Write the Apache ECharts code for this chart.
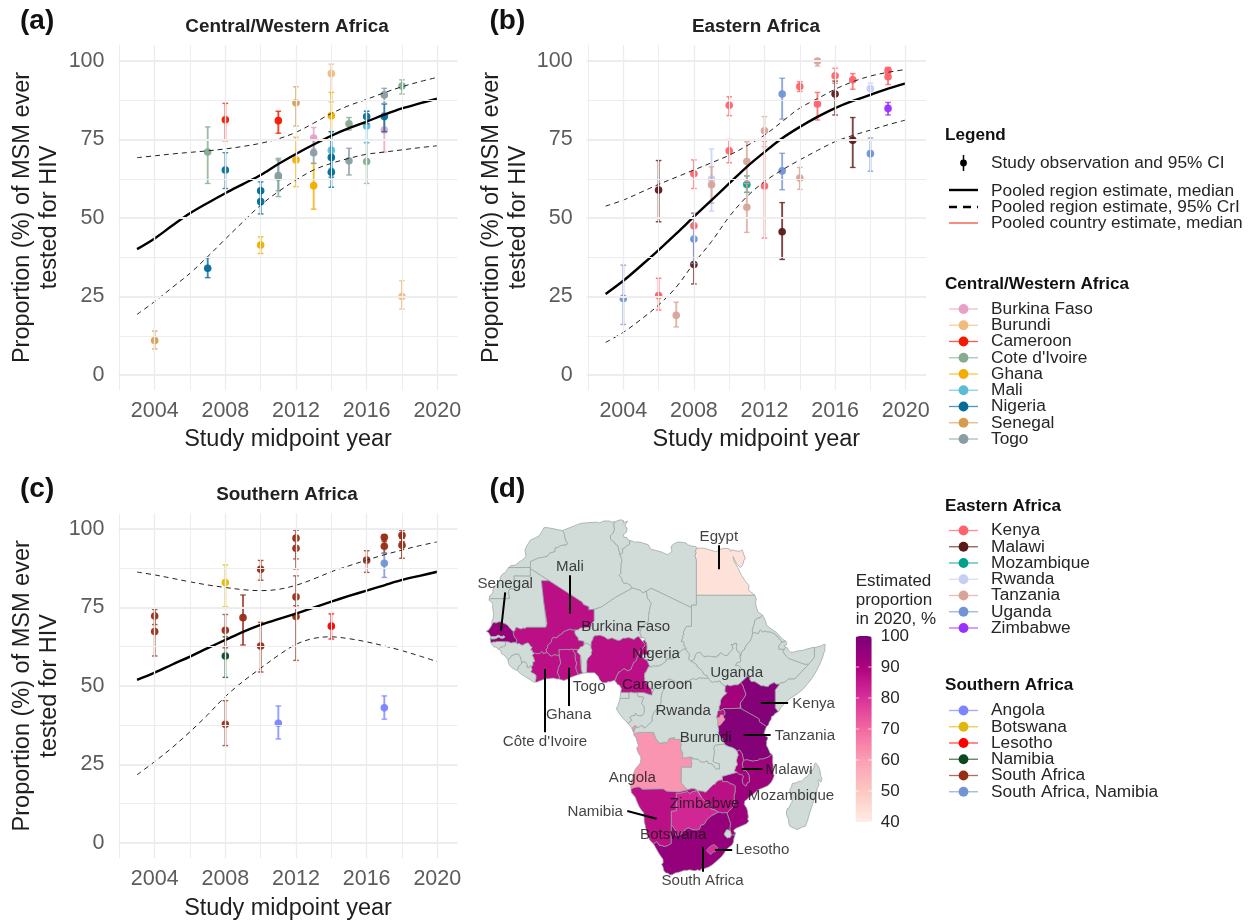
<!DOCTYPE html>
<html><head><meta charset="utf-8">
<style>html,body{margin:0;padding:0;background:#fff}#c{width:1251px;height:921px}</style>
<script src="https://cdn.jsdelivr.net/npm/echarts@6/dist/echarts.min.js"></script></head>
<body><div id="c"></div>
<script>
// ---------- observations: [year, estimate, lower, upper]
const burkinaFaso=[[2013,75.5,72,78.8],[2017,78,71,83.5]];
const burundi=[[2014,96,87,99],[2018,25,21,30]];
const cameroon=[[2008,81.3,74.6,86.5],[2011,81,77,84]];
const coteDIvoire=[[2007,71,61,79],[2011,63,56.8,69],[2015,80,78,82],[2016,68,61,74],[2018,92,89.5,94]];
const ghana=[[2010,41.4,38.7,44],[2012,68.5,60,75.7],[2013,60.3,52.8,67.4],[2014,82.6,74.8,90]];
const mali=[[2014,71.6,65.8,77.5],[2016,79.3,74,84]];
const nigeria=[[2007,34,31,37.4],[2008,65.3,59.4,70.8],[2010,58.7,55.7,61.5],[2010,55.2,51.3,58.4],[2014,69.3,63,77.5],[2014,64.6,59.8,69.5],[2016,82.3,80,84],[2017,82.3,77.5,86.3]];
const senegal=[[2004,11,8.3,14],[2012,86.7,79.3,91.8]];
const togo=[[2011,63.5,58.7,68.5],[2013,70.8,67.4,75],[2015,68.2,63.7,72.2],[2017,89.2,86.5,91.3]];
const kenya=[[2006,25.3,20.7,30.8],[2008,64.1,59.4,68.5],[2008,47.5,43,51.5],[2010,85.9,82.6,88.6],[2010,71.4,67.6,75],[2012,60.2,43.6,74.5],[2014,91.9,90.3,93.4],[2015,86.3,81.2,90],[2016,95.3,92.9,97.7],[2017,94,91,96],[2019,97,96,97.9],[2019,95,92.5,97]];
const malawi=[[2006,58.9,48.8,68.3],[2008,35.2,29,42.8],[2013,45.6,36.8,54.9],[2016,89.5,82.8,93.6],[2017,74.8,66.1,82]];
const mozambique=[[2011,60.7,58.2,63.4]];
const rwanda=[[2009,62.4,52.2,72],[2018,91.2,89.2,93]];
const tanzania=[[2007,19,15.3,23.2],[2009,60.6,54.7,66.3],[2011,68,61.6,74.3],[2011,53.4,45.4,61],[2012,77.8,72.7,82.3],[2014,62.7,59.1,66.1],[2015,100,98.4,100]];
const uganda=[[2004,24.4,16.1,35],[2008,43.3,35.5,51.5],[2013,89.5,81.5,94.5],[2013,65,59,70.6],[2018,70.5,64.9,75.5]];
const zimbabwe=[[2019,84.9,82.8,86.8]];
const angola=[[2011,38.1,33.1,43.6],[2017,43,39.4,46.8]];
const botswana=[[2008,82.9,75.2,88.5]];
const lesotho=[[2014,69,64.9,72.9]];
const namibia=[[2008,59.5,52.7,65.6]];
const southAfrica=[[2004,72.2,69.5,74.7],[2004,67.3,59.5,74.3],[2008,67.7,62.1,72.7],[2008,37.8,31,45.3],[2009,71.7,63,78.9],[2010,87.1,83.6,89.9],[2010,62.7,54.4,70.2],[2012,97,90.4,99.5],[2012,93.8,87.2,97.5],[2012,78.3,72,85],[2012,72.1,58.1,75.5],[2016,90,86.1,93],[2017,97.3,95.9,98],[2017,94.4,92.2,96.4],[2018,97.9,95.9,99.5],[2018,94.7,90.6,96.9]];
const southAfricaNamibia=[[2017,89,84.5,92.2]];
// ---------- pooled curves, one reading per year
const curveYears=[2003,2004,2005,2006,2007,2008,2009,2010,2011,2012,2013,2014,2015,2016,2017,2018,2019,2020];
const medianA=[40.1,43.5,47.6,51.5,54.8,57.9,60.8,63.7,67.2,70.4,73.4,76.2,78.6,80.7,82.9,84.9,86.5,88];
const upperA=[69.2,69.8,70.4,70.9,71.4,72,72.8,73.8,75.2,77.3,80.2,83.3,85.8,87.8,89.9,91.8,93.4,94.8];
const lowerA=[19.3,23.4,27.9,32.4,37.7,43.3,48.8,54.1,58.4,62.1,65.3,67.4,69,70.3,71,71.7,72.4,73];
const medianB=[25.8,30,34.8,39.8,45,50.4,55.7,61,66.3,71,75.4,79,82.2,85,87.3,89.2,91.2,92.9];
const upperB=[53.8,55.7,58.2,60.7,63,65.3,67.6,70,73,76.4,80.7,85,88,91,93.4,95.2,96.4,97.3];
const lowerB=[10.4,13.6,17.7,22.3,28,35.6,42.5,50.4,56.8,61.6,65.3,68.5,71.5,74.3,76.3,78,79.7,81.2];
const medianC=[51.9,54.2,56.8,59.3,62,64.6,67.2,69.4,71.2,73,74.9,76.8,78.6,80.3,82,83.7,85,86.3];
const upperC=[86.2,85.3,84.2,83.1,82.1,81.3,80.6,80.3,80.7,82,84,86.3,88.2,90,91.7,93.2,94.6,95.8];
const lowerC=[21.7,25.9,30.4,35.4,40.8,46.6,51.4,55.6,59.7,63.2,65.1,65.6,65,64,62.7,61.2,59.5,57.7];
// ---------- ticks
const xMajor=[2004,2008,2012,2016,2020];
const xMinor=[2002,2006,2010,2014,2018];
const yMajor=[0,25,50,75,100];
const yMinor=[12.5,37.5,62.5,87.5];
// ---------- legend groups: [name, colour, observations]
const centralWestern=[['Burkina Faso','#E8A0C8',burkinaFaso],['Burundi','#F1BB7B',burundi],['Cameroon','#F21A00',cameroon],["Cote d'Ivoire",'#85AC8E',coteDIvoire],['Ghana','#F2AD00',ghana],['Mali','#5BBCD6',mali],['Nigeria','#046C9A',nigeria],['Senegal','#D69C4E',senegal],['Togo','#899DA4',togo]];
const eastern=[['Kenya','#FF6268',kenya],['Malawi','#5B1A18',malawi],['Mozambique','#00A08A',mozambique],['Rwanda','#C6CDF7',rwanda],['Tanzania','#D8A499',tanzania],['Uganda','#7294D4',uganda],['Zimbabwe','#9A30FF',zimbabwe]];
const southern=[['Angola','#7B85FF',angola],['Botswana','#E1B80A',botswana],['Lesotho','#FF0000',lesotho],['Namibia','#0B4A1E',namibia],['South Africa','#972D15',southAfrica],['South Africa, Namibia','#7294D4',southAfricaNamibia]];
// ---------- map
const mapValues=[['Egypt',43],['Mali',87],['Senegal',95],['Burkina Faso',87],['Ghana',87],["Côte d'Ivoire",87],['Togo',86],['Nigeria',87],['Cameroon',87],['Uganda',92],['Kenya',98],['Tanzania',98],['Rwanda',86],['Burundi',62],['Malawi',91],['Mozambique',93],['Zimbabwe',87],['Angola',62],['Namibia',87],['Botswana',82],['South Africa',95],['Lesotho',80]];
const colorbarTicks=[40,50,60,70,80,90,100];
const colorbarColors=['#FFEDE5','#FCC7C0','#FA9FB5','#F468A1','#D8309A','#AE017E','#7A0177'];
const mapLabels=[['Egypt',29.56,33.8],['Mali',-0.66,27.8],['Senegal',-13.8,24.4],['Burkina Faso',10.63,15.6],['Nigeria',16.8,10.2],['Cameroon',17.04,3.9],['Uganda',33.15,6.3],['Rwanda',22.3,-1.46],['Burundi',26.9,-6.9],['Togo',3.25,3.3],['Ghana',-0.93,-2.3],["Côte d'Ivoire",-5.74,-7.76],['Kenya',48.77,0.04],['Tanzania',47,-6.46],['Malawi',43.8,-13.4],['Mozambique',44.2,-18.8],['Angola',12,-15.1],['Zimbabwe',26.66,-20.3],['Namibia',4.47,-22],['Botswana',20.3,-26.7],['Lesotho',38.4,-29.8],['South Africa',26.25,-36.1]];
const mapLeaders=[[[29.56,32.2],[29.56,27.3]],[[-0.66,26.1],[-0.66,18.3]],[[-13.8,22.6],[-14.66,14.8]],[[-1,7.3],[-1,-0.5]],[[-5.74,7],[-5.74,-5.85]],[[38.08,0.25],[43.6,0.25]],[[34.6,-6.3],[40.05,-6.3]],[[34.2,-13.25],[38.4,-13.25]],[[10.96,-21.85],[16.9,-23.4]],[[28.75,-29.8],[32.26,-29.8]],[[26.25,-29.1],[26.25,-34.2]]];
const mapShapes=[
['Morocco',[[-5.19,35.76],[-2.17,35.17],[-1.79,34.53],[-1.73,33.92],[-1.38,32.86],[-1.12,32.65],[-1.31,32.26],[-2.62,32.09],[-3.07,31.72],[-3.65,31.64],[-3.69,30.9],[-4.86,30.5],[-5.24,29.95],[-6.06,29.73],[-7.06,29.58],[-8.67,28.84],[-8.67,27.66],[-13.13,27.64],[-12.62,28.04],[-11.69,28.15],[-10.9,28.83],[-10.4,29.1],[-9.56,29.93],[-9.81,31.18],[-9.43,32.04],[-8.66,33.24],[-7.65,33.7],[-6.91,34.11],[-6.24,35.15],[-5.93,35.76]]],
['Western Sahara',[[-13.13,27.64],[-8.67,27.66],[-8.68,27.4],[-8.69,25.88],[-11.97,25.93],[-11.94,23.37],[-12.87,23.28],[-13.12,22.77],[-12.93,21.33],[-16.85,21.33],[-17.06,21],[-17.02,21.42],[-16.97,21.89],[-16.59,22.16],[-16.26,22.68],[-16.33,23.02],[-15.98,23.72],[-15.43,24.36],[-15.09,24.52],[-14.82,25.1],[-14.8,25.64],[-14.44,26.25],[-13.77,26.62]]],
['Algeria',[[12,23.47],[8.57,21.57],[5.68,19.6],[4.27,19.16],[3.16,19.06],[3.15,19.69],[2.68,19.86],[2.06,20.14],[1.82,20.61],[-1.55,22.79],[-4.92,24.97],[-8.68,27.4],[-8.67,27.66],[-8.67,28.84],[-7.06,29.58],[-6.06,29.73],[-5.24,29.95],[-4.86,30.5],[-3.69,30.9],[-3.65,31.64],[-3.07,31.72],[-2.62,32.09],[-1.31,32.26],[-1.12,32.65],[-1.38,32.86],[-1.73,33.92],[-1.79,34.53],[-2.17,35.17],[1.47,36.61],[3.16,36.78],[4.82,36.87],[5.32,36.72],[6.26,37.11],[7.33,37.12],[7.74,36.89],[8.42,36.95],[8.22,36.43],[8.38,35.48],[8.14,34.66],[7.52,34.1],[7.61,33.34],[8.43,32.75],[8.44,32.51],[9.06,32.1],[9.48,30.31],[9.81,29.42],[9.86,28.96],[9.68,28.14],[9.76,27.69],[9.63,27.14],[9.72,26.51],[9.32,26.09],[9.91,25.37],[9.95,24.94],[10.3,24.38],[10.77,24.56],[11.56,24.1]]],
['Tunisia',[[9.48,30.31],[9.06,32.1],[8.44,32.51],[8.43,32.75],[7.61,33.34],[7.52,34.1],[8.14,34.66],[8.38,35.48],[8.22,36.43],[8.42,36.95],[9.51,37.35],[10.21,37.23],[10.18,36.72],[11.03,37.09],[11.1,36.9],[10.6,36.41],[10.59,35.95],[10.94,35.7],[10.81,34.83],[10.15,34.33],[10.34,33.79],[10.86,33.77],[11.11,33.29],[11.49,33.14],[11.43,32.37],[10.94,32.08],[10.64,31.76],[9.95,31.38],[10.06,30.96],[9.97,30.54]]],
['Libya',[[14.85,22.86],[14.14,22.49],[13.58,23.04],[12,23.47],[11.56,24.1],[10.77,24.56],[10.3,24.38],[9.95,24.94],[9.91,25.37],[9.32,26.09],[9.72,26.51],[9.63,27.14],[9.76,27.69],[9.68,28.14],[9.86,28.96],[9.81,29.42],[9.48,30.31],[9.97,30.54],[10.06,30.96],[9.95,31.38],[10.64,31.76],[10.94,32.08],[11.43,32.37],[11.49,33.14],[12.66,32.79],[13.08,32.88],[13.92,32.71],[15.25,32.27],[15.71,31.38],[16.61,31.18],[18.02,30.76],[19.09,30.27],[19.57,30.53],[20.05,30.99],[19.82,31.75],[20.13,32.24],[20.85,32.71],[21.54,32.84],[22.9,32.64],[23.24,32.19],[23.61,32.19],[23.93,32.02],[24.92,31.9],[25.16,31.57],[24.8,31.09],[24.96,30.66],[24.7,30.04],[25,29.24],[25,22],[25,20],[24,20],[24,19.5],[15.86,23.41]]],
['Egypt',[[36.87,22],[32.9,22],[29.02,22],[25,22],[25,29.24],[24.7,30.04],[24.96,30.66],[24.8,31.09],[25.16,31.57],[26.5,31.59],[28.91,30.87],[29.68,31.19],[30.09,31.47],[30.98,31.56],[31.69,31.43],[31.96,30.93],[32.19,31.26],[32.99,31.02],[33.77,30.97],[34.27,31.22],[34.92,29.5],[34.64,29.1],[34.43,28.34],[34.15,27.82],[33.92,27.65],[33.14,28.42],[32.42,29.85],[32.32,29.76],[32.73,28.71],[33.35,27.7],[34.1,26.14],[34.47,25.6],[34.8,25.03],[35.69,23.93],[35.49,23.81],[35.53,23.1]]],
['Mauritania',[[-12.17,14.62],[-12.83,15.3],[-13.44,16.04],[-14.1,16.3],[-14.58,16.6],[-15.14,16.59],[-15.62,16.37],[-16.12,16.46],[-16.46,16.14],[-16.55,16.67],[-16.27,17.17],[-16.15,18.11],[-16.26,19.1],[-16.38,19.59],[-16.28,20.09],[-16.54,20.57],[-17.06,21],[-16.85,21.33],[-12.93,21.33],[-13.12,22.77],[-12.87,23.28],[-11.94,23.37],[-11.97,25.93],[-8.69,25.88],[-8.68,27.4],[-4.92,24.97],[-6.45,24.96],[-5.97,20.64],[-5.49,16.33],[-5.32,16.2],[-5.54,15.5],[-9.55,15.49],[-9.7,15.26],[-10.09,15.33],[-10.65,15.13],[-11.35,15.41],[-11.67,15.39],[-11.83,14.8]]],
['Mali',[[-12.17,14.62],[-11.83,14.8],[-11.67,15.39],[-11.35,15.41],[-10.65,15.13],[-10.09,15.33],[-9.7,15.26],[-9.55,15.49],[-5.54,15.5],[-5.32,16.2],[-5.49,16.33],[-5.97,20.64],[-6.45,24.96],[-4.92,24.97],[-1.55,22.79],[1.82,20.61],[2.06,20.14],[2.68,19.86],[3.15,19.69],[3.16,19.06],[4.27,19.16],[4.27,16.85],[3.72,16.18],[3.64,15.57],[2.75,15.41],[1.39,15.32],[1.02,14.97],[0.37,14.93],[-0.27,14.92],[-0.52,15.12],[-1.07,14.97],[-2,14.56],[-2.19,14.25],[-2.97,13.8],[-3.1,13.54],[-3.52,13.34],[-4.01,13.47],[-4.28,13.23],[-4.43,12.54],[-5.22,11.71],[-5.2,11.38],[-5.47,10.95],[-5.4,10.37],[-5.82,10.22],[-6.05,10.1],[-6.21,10.52],[-6.49,10.41],[-6.67,10.43],[-6.85,10.14],[-7.62,10.15],[-7.9,10.3],[-8.03,10.21],[-8.34,10.49],[-8.28,10.79],[-8.41,10.91],[-8.62,10.81],[-8.58,11.14],[-8.38,11.39],[-8.79,11.81],[-8.91,12.09],[-9.13,12.31],[-9.33,12.33],[-9.57,12.19],[-9.89,12.06],[-10.17,11.84],[-10.59,11.92],[-10.87,12.18],[-11.04,12.21],[-11.3,12.08],[-11.46,12.08],[-11.51,12.44],[-11.47,12.75],[-11.55,13.14],[-11.93,13.42],[-12.12,13.99]]],
['Niger',[[2.15,11.94],[2.18,12.63],[1.02,12.85],[0.99,13.34],[0.43,13.99],[0.3,14.44],[0.37,14.93],[1.02,14.97],[1.39,15.32],[2.75,15.41],[3.64,15.57],[3.72,16.18],[4.27,16.85],[4.27,19.16],[5.68,19.6],[8.57,21.57],[12,23.47],[13.58,23.04],[14.14,22.49],[14.85,22.86],[15.1,21.31],[15.47,21.05],[15.49,20.73],[15.9,20.39],[15.69,19.96],[15.3,17.93],[15.25,16.63],[13.97,15.68],[13.54,14.37],[13.95,13.35],[13.32,13.56],[13.08,13.6],[12.3,13.04],[11.53,13.33],[10.99,13.39],[10.7,13.25],[10.11,13.28],[9.52,12.85],[9.01,12.83],[7.8,13.34],[7.33,13.1],[6.82,13.12],[6.45,13.49],[5.44,13.87],[4.37,13.75],[4.11,13.53],[3.97,12.96],[3.68,12.55],[3.61,11.66],[2.85,12.24],[2.49,12.23]]],
['Chad',[[14.5,12.86],[14.6,13.33],[13.95,13.35],[13.54,14.37],[13.97,15.68],[15.25,16.63],[15.3,17.93],[15.69,19.96],[15.9,20.39],[15.49,20.73],[15.47,21.05],[15.1,21.31],[14.85,22.86],[15.86,23.41],[24,19.5],[24,15.7],[23.02,15.68],[22.57,14.94],[22.3,14.33],[22.51,14.09],[22.18,13.79],[22.3,13.37],[22.04,12.96],[21.94,12.59],[22.29,12.65],[22.5,12.26],[22.51,11.68],[22.88,11.38],[22.86,11.14],[22.23,10.97],[21.72,10.57],[21,9.48],[20.06,9.01],[19.09,9.07],[18.81,8.98],[18.91,8.63],[18.39,8.28],[17.96,7.89],[16.71,7.51],[16.46,7.73],[16.29,7.75],[16.11,7.5],[15.28,7.42],[15.44,7.69],[15.12,8.38],[14.98,8.8],[14.54,8.97],[13.95,9.55],[14.17,10.02],[14.63,9.92],[14.91,9.99],[15.47,9.98],[14.92,10.89],[14.96,11.56],[14.89,12.22]]],
['Sudan',[[24,15.7],[24,19.5],[24,20],[25,20],[25,22],[29.02,22],[32.9,22],[36.87,22],[37.19,21.02],[36.97,20.84],[37.11,19.81],[37.48,18.61],[37.86,18.37],[38.41,18],[37.9,17.43],[37.17,17.26],[36.85,16.96],[36.75,16.29],[36.32,14.82],[36.43,14.42],[36.27,13.56],[35.86,12.58],[35.26,12.08],[34.83,11.32],[34.73,10.91],[34.26,10.63],[33.96,9.58],[33.82,9.48],[33.84,9.98],[33.72,10.33],[33.21,10.72],[33.09,11.44],[33.21,12.18],[32.74,12.25],[32.67,12.02],[32.07,11.97],[32.31,11.68],[32.4,11.08],[31.85,10.53],[31.35,9.81],[30.84,9.71],[30,10.29],[29.62,10.08],[29.52,9.79],[29,9.6],[28.97,9.4],[27.97,9.4],[27.83,9.6],[27.11,9.64],[26.75,9.47],[26.48,9.55],[25.96,10.14],[25.79,10.41],[25.07,10.27],[24.79,9.81],[24.54,8.92],[24.19,8.73],[23.89,8.62],[23.81,8.67],[23.46,8.95],[23.39,9.27],[23.56,9.68],[23.55,10.09],[22.98,10.71],[22.86,11.14],[22.88,11.38],[22.51,11.68],[22.5,12.26],[22.29,12.65],[21.94,12.59],[22.04,12.96],[22.3,13.37],[22.18,13.79],[22.51,14.09],[22.3,14.33],[22.57,14.94],[23.02,15.68]]],
['South Sudan',[[30.83,3.51],[29.95,4.17],[29.72,4.6],[29.16,4.39],[28.7,4.46],[28.43,4.29],[27.98,4.41],[27.37,5.23],[27.21,5.55],[26.47,5.95],[26.21,6.55],[25.8,6.98],[25.12,7.5],[25.11,7.83],[24.57,8.23],[23.89,8.62],[24.19,8.73],[24.54,8.92],[24.79,9.81],[25.07,10.27],[25.79,10.41],[25.96,10.14],[26.48,9.55],[26.75,9.47],[27.11,9.64],[27.83,9.6],[27.97,9.4],[28.97,9.4],[29,9.6],[29.52,9.79],[29.62,10.08],[30,10.29],[30.84,9.71],[31.35,9.81],[31.85,10.53],[32.4,11.08],[32.31,11.68],[32.07,11.97],[32.67,12.02],[32.74,12.25],[33.21,12.18],[33.09,11.44],[33.21,10.72],[33.72,10.33],[33.84,9.98],[33.82,9.48],[33.96,9.58],[33.98,8.68],[33.83,8.38],[33.29,8.35],[32.95,7.78],[33.57,7.71],[34.07,7.23],[34.25,6.83],[34.71,6.59],[35.3,5.51],[34.62,4.85],[34,4.25],[33.39,3.79],[32.69,3.79],[31.88,3.56],[31.25,3.78]]],
['Eritrea',[[36.43,14.42],[36.32,14.82],[36.75,16.29],[36.85,16.96],[37.17,17.26],[37.9,17.43],[38.41,18],[38.99,16.84],[39.27,15.92],[39.81,15.44],[41.18,14.49],[42.59,13],[43.08,12.7],[42.78,12.46],[42.35,12.54],[42,12.87],[41.6,13.45],[41.16,13.77],[40.9,14.12],[40.03,14.52],[39.34,14.53],[39.1,14.74],[38.51,14.51],[37.91,14.96],[37.59,14.21]]],
['Ethiopia',[[47.79,8],[44.96,5],[43.66,4.96],[42.77,4.25],[42.13,4.23],[41.86,3.92],[41.17,3.92],[40.77,4.26],[39.85,3.84],[39.56,3.42],[38.89,3.5],[38.67,3.62],[38.44,3.59],[38.12,3.6],[36.86,4.45],[36.16,4.45],[35.82,4.78],[35.82,5.34],[35.3,5.51],[34.71,6.59],[34.25,6.83],[34.07,7.23],[33.57,7.71],[32.95,7.78],[33.29,8.35],[33.83,8.38],[33.98,8.68],[33.96,9.58],[34.26,10.63],[34.73,10.91],[34.83,11.32],[35.26,12.08],[35.86,12.58],[36.27,13.56],[36.43,14.42],[37.59,14.21],[37.91,14.96],[38.51,14.51],[39.1,14.74],[39.34,14.53],[40.03,14.52],[40.9,14.12],[41.16,13.77],[41.6,13.45],[42,12.87],[42.35,12.54],[41.66,11.63],[41.74,11.36],[41.76,11.05],[42.31,11.03],[42.55,11.11],[42.78,10.93],[42.56,10.57],[42.93,10.02],[43.3,9.54],[43.68,9.18],[46.95,8]]],
['Djibouti',[[43.08,12.7],[43.32,12.39],[43.29,11.97],[42.72,11.74],[43.15,11.46],[42.78,10.93],[42.55,11.11],[42.31,11.03],[41.76,11.05],[41.74,11.36],[41.66,11.63],[42.35,12.54],[42.78,12.46]]],
['Somaliland',[[48.95,11.41],[48.95,9.45],[48.49,8.84],[47.79,8],[46.95,8],[43.68,9.18],[43.3,9.54],[42.93,10.02],[42.56,10.57],[42.78,10.93],[43.15,11.46],[43.47,11.28],[43.67,10.86],[44.12,10.45],[44.61,10.44],[45.56,10.7],[46.65,10.82],[47.53,11.13],[48.02,11.19],[48.38,11.38]]],
['Somalia',[[48.95,11.41],[49.27,11.43],[49.73,11.58],[50.26,11.68],[50.73,12.02],[51.11,12.02],[51.13,11.75],[51.04,11.17],[51.05,10.64],[50.83,10.28],[50.55,9.2],[50.07,8.08],[49.45,6.8],[48.59,5.34],[47.74,4.22],[46.56,2.86],[45.56,2.05],[44.07,1.05],[43.14,0.29],[42.04,-0.92],[41.81,-1.45],[41.58,-1.68],[40.99,-0.86],[40.98,2.78],[41.86,3.92],[42.13,4.23],[42.77,4.25],[43.66,4.96],[44.96,5],[47.79,8],[48.49,8.84],[48.95,9.45]]],
['Kenya',[[40.99,-0.86],[41.58,-1.68],[40.88,-2.08],[40.64,-2.5],[40.26,-2.57],[40.12,-3.28],[39.8,-3.68],[39.6,-4.35],[39.2,-4.68],[37.77,-3.68],[37.7,-3.1],[34.07,-1.06],[33.9,-0.95],[33.89,0.11],[34.18,0.52],[34.67,1.18],[35.04,1.91],[34.6,3.05],[34.48,3.56],[34,4.25],[34.62,4.85],[35.3,5.51],[35.82,5.34],[35.82,4.78],[36.16,4.45],[36.86,4.45],[38.12,3.6],[38.44,3.59],[38.67,3.62],[38.89,3.5],[39.56,3.42],[39.85,3.84],[40.77,4.26],[41.17,3.92],[41.86,3.92],[40.98,2.78]]],
['Uganda',[[31.87,-1.03],[30.77,-1.01],[30.42,-1.13],[29.82,-1.44],[29.58,-1.34],[29.59,-0.59],[29.82,-0.21],[29.88,0.6],[30.09,1.06],[30.47,1.58],[30.85,1.85],[31.17,2.2],[30.77,2.34],[30.83,3.51],[31.25,3.78],[31.88,3.56],[32.69,3.79],[33.39,3.79],[34,4.25],[34.48,3.56],[34.6,3.05],[35.04,1.91],[34.67,1.18],[34.18,0.52],[33.89,0.11],[33.9,-0.95]]],
['Rwanda',[[30.42,-1.13],[30.82,-1.7],[30.76,-2.29],[30.47,-2.41],[29.94,-2.35],[29.63,-2.92],[29.02,-2.84],[29.12,-2.29],[29.25,-2.22],[29.29,-1.62],[29.58,-1.34],[29.82,-1.44]]],
['Burundi',[[30.47,-2.41],[30.53,-2.81],[30.74,-3.03],[30.75,-3.36],[30.51,-3.57],[30.12,-4.09],[29.75,-4.45],[29.34,-4.5],[29.28,-3.29],[29.02,-2.84],[29.63,-2.92],[29.94,-2.35]]],
['Tanzania',[[33.9,-0.95],[34.07,-1.06],[37.7,-3.1],[37.77,-3.68],[39.2,-4.68],[38.74,-5.91],[38.8,-6.48],[39.44,-6.84],[39.47,-7.1],[39.19,-7.7],[39.25,-8.01],[39.19,-8.49],[39.54,-9.11],[39.95,-10.1],[40.32,-10.32],[39.52,-10.9],[38.43,-11.29],[37.83,-11.27],[37.47,-11.57],[36.78,-11.59],[36.51,-11.72],[35.31,-11.44],[34.56,-11.52],[34.28,-10.16],[33.94,-9.69],[33.74,-9.42],[33.23,-9.68],[32.76,-9.23],[32.19,-8.93],[31.56,-8.76],[31.16,-8.59],[30.74,-8.34],[30.2,-7.08],[29.62,-6.52],[29.42,-5.94],[29.52,-5.42],[29.34,-4.5],[29.75,-4.45],[30.12,-4.09],[30.51,-3.57],[30.75,-3.36],[30.74,-3.03],[30.53,-2.81],[30.47,-2.41],[30.76,-2.29],[30.82,-1.7],[30.42,-1.13],[30.77,-1.01],[31.87,-1.03]]],
['Mozambique',[[34.56,-11.52],[35.31,-11.44],[36.51,-11.72],[36.78,-11.59],[37.47,-11.57],[37.83,-11.27],[38.43,-11.29],[39.52,-10.9],[40.32,-10.32],[40.48,-10.77],[40.44,-11.76],[40.56,-12.64],[40.6,-14.2],[40.78,-14.69],[40.48,-15.41],[40.09,-16.1],[39.45,-16.72],[38.54,-17.1],[37.41,-17.59],[36.28,-18.66],[35.9,-18.84],[35.2,-19.55],[34.79,-19.78],[34.7,-20.5],[35.18,-21.25],[35.37,-21.84],[35.39,-22.14],[35.56,-22.09],[35.53,-23.07],[35.37,-23.54],[35.61,-23.71],[35.46,-24.12],[35.04,-24.48],[34.22,-24.82],[33.01,-25.36],[32.57,-25.73],[32.66,-26.15],[32.92,-26.22],[32.83,-26.74],[32.07,-26.73],[31.99,-26.29],[31.84,-25.84],[31.75,-25.48],[31.93,-24.37],[31.67,-23.66],[31.19,-22.25],[32.24,-21.12],[32.51,-20.4],[32.66,-20.3],[32.77,-19.72],[32.61,-19.42],[32.65,-18.67],[32.85,-17.98],[32.85,-16.71],[32.33,-16.39],[31.85,-16.32],[31.64,-16.07],[31.17,-15.86],[30.34,-15.88],[30.27,-15.51],[30.18,-14.8],[33.21,-13.97],[33.79,-14.45],[34.06,-14.36],[34.46,-14.61],[34.52,-15.01],[34.31,-15.48],[34.38,-16.18],[35.03,-16.8],[35.34,-16.11],[35.77,-15.9],[35.69,-14.61],[35.27,-13.89],[34.91,-13.57],[34.56,-13.58],[34.28,-12.28]]],
['Malawi',[[34.56,-11.52],[34.28,-12.28],[34.56,-13.58],[34.91,-13.57],[35.27,-13.89],[35.69,-14.61],[35.77,-15.9],[35.34,-16.11],[35.03,-16.8],[34.38,-16.18],[34.31,-15.48],[34.52,-15.01],[34.46,-14.61],[34.06,-14.36],[33.79,-14.45],[33.21,-13.97],[32.69,-13.71],[33,-12.78],[33.31,-12.44],[33.11,-11.61],[33.31,-10.8],[33.49,-10.53],[33.23,-9.68],[33.74,-9.42],[33.94,-9.69],[34.28,-10.16]]],
['Zambia',[[30.74,-8.34],[31.16,-8.59],[31.56,-8.76],[32.19,-8.93],[32.76,-9.23],[33.23,-9.68],[33.49,-10.53],[33.31,-10.8],[33.11,-11.61],[33.31,-12.44],[33,-12.78],[32.69,-13.71],[33.21,-13.97],[30.18,-14.8],[30.27,-15.51],[29.52,-15.64],[28.95,-16.04],[28.83,-16.39],[28.47,-16.47],[27.6,-17.29],[27.04,-17.94],[26.71,-18.04],[26.38,-17.85],[25.26,-17.74],[25.08,-17.66],[25.08,-17.58],[24.68,-17.35],[24.03,-17.3],[23.22,-17.52],[22.56,-16.9],[21.89,-16.08],[21.93,-12.9],[24.02,-12.91],[23.93,-12.57],[24.08,-12.19],[23.9,-11.72],[24.02,-11.24],[23.91,-10.93],[24.26,-10.95],[24.31,-11.26],[24.78,-11.24],[25.42,-11.33],[25.75,-11.78],[26.55,-11.92],[27.16,-11.61],[27.39,-12.13],[28.16,-12.27],[28.52,-12.7],[28.93,-13.25],[29.7,-13.26],[29.62,-12.18],[29.34,-12.18],[28.64,-11.97],[28.37,-11.79],[28.5,-10.79],[28.67,-9.61],[28.45,-9.16],[28.73,-8.53],[29,-8.41],[30.35,-8.24]]],
['Zimbabwe',[[31.19,-22.25],[30.66,-22.15],[30.32,-22.27],[29.84,-22.1],[29.43,-22.09],[28.79,-21.64],[28.02,-21.49],[27.73,-20.85],[27.72,-20.5],[27.3,-20.39],[26.16,-19.29],[25.85,-18.71],[25.65,-18.54],[25.26,-17.74],[26.38,-17.85],[26.71,-18.04],[27.04,-17.94],[27.6,-17.29],[28.47,-16.47],[28.83,-16.39],[28.95,-16.04],[29.52,-15.64],[30.27,-15.51],[30.34,-15.88],[31.17,-15.86],[31.64,-16.07],[31.85,-16.32],[32.33,-16.39],[32.85,-16.71],[32.85,-17.98],[32.65,-18.67],[32.61,-19.42],[32.77,-19.72],[32.66,-20.3],[32.51,-20.4],[32.24,-21.12]]],
['Botswana',[[25.65,-18.54],[25.85,-18.71],[26.16,-19.29],[27.3,-20.39],[27.72,-20.5],[27.73,-20.85],[28.02,-21.49],[28.79,-21.64],[29.43,-22.09],[28.02,-22.83],[27.12,-23.57],[26.79,-24.24],[26.49,-24.62],[25.94,-24.7],[25.77,-25.17],[25.66,-25.49],[25.03,-25.72],[24.21,-25.67],[23.73,-25.39],[23.31,-25.27],[22.82,-25.5],[22.58,-25.98],[22.11,-26.28],[21.61,-26.73],[20.89,-26.83],[20.67,-26.48],[20.76,-25.87],[20.17,-24.92],[19.9,-24.77],[19.9,-21.85],[20.88,-21.81],[20.91,-18.25],[21.65,-18.22],[23.2,-17.87],[23.58,-18.28],[24.22,-17.89],[24.52,-17.89],[25.08,-17.66],[25.26,-17.74]]],
['Namibia',[[19.9,-24.77],[19.9,-28.45],[19,-28.97],[18.46,-29.05],[17.84,-28.86],[17.39,-28.78],[17.22,-28.36],[16.82,-28.08],[16.34,-28.58],[15.6,-27.82],[15.21,-27.09],[14.99,-26.12],[14.74,-25.39],[14.41,-23.85],[14.39,-22.66],[14.26,-22.11],[13.87,-21.7],[13.35,-20.87],[12.83,-19.67],[12.61,-19.05],[11.79,-18.07],[11.73,-17.3],[12.22,-17.11],[12.81,-16.94],[13.46,-16.97],[14.06,-17.42],[14.21,-17.35],[18.26,-17.31],[18.96,-17.79],[21.38,-17.93],[23.22,-17.52],[24.03,-17.3],[24.68,-17.35],[25.08,-17.58],[25.08,-17.66],[24.52,-17.89],[24.22,-17.89],[23.58,-18.28],[23.2,-17.87],[21.65,-18.22],[20.91,-18.25],[20.88,-21.81],[19.9,-21.85]]],
['South Africa',[[16.34,-28.58],[16.82,-28.08],[17.22,-28.36],[17.39,-28.78],[17.84,-28.86],[18.46,-29.05],[19,-28.97],[19.9,-28.45],[19.9,-24.77],[20.17,-24.92],[20.76,-25.87],[20.67,-26.48],[20.89,-26.83],[21.61,-26.73],[22.11,-26.28],[22.58,-25.98],[22.82,-25.5],[23.31,-25.27],[23.73,-25.39],[24.21,-25.67],[25.03,-25.72],[25.66,-25.49],[25.77,-25.17],[25.94,-24.7],[26.49,-24.62],[26.79,-24.24],[27.12,-23.57],[28.02,-22.83],[29.43,-22.09],[29.84,-22.1],[30.32,-22.27],[30.66,-22.15],[31.19,-22.25],[31.67,-23.66],[31.93,-24.37],[31.75,-25.48],[31.84,-25.84],[31.33,-25.66],[31.04,-25.73],[30.95,-26.02],[30.68,-26.4],[30.69,-26.74],[31.28,-27.29],[31.87,-27.18],[32.07,-26.73],[32.83,-26.74],[32.58,-27.47],[32.46,-28.3],[32.2,-28.75],[31.33,-29.4],[30.9,-29.91],[30.62,-30.42],[30.06,-31.14],[28.93,-32.17],[28.22,-32.77],[27.46,-33.23],[26.42,-33.61],[25.91,-33.67],[25.78,-33.94],[25.17,-33.8],[24.68,-33.99],[23.59,-33.79],[22.99,-33.92],[22.57,-33.86],[21.54,-34.26],[20.69,-34.42],[20.07,-34.8],[19.62,-34.82],[19.19,-34.46],[18.86,-34.44],[18.42,-34],[18.38,-34.14],[18.24,-33.87],[18.25,-33.28],[17.93,-32.61],[18.25,-32.43],[18.22,-31.66],[17.57,-30.73],[17.06,-29.88]]],
['Lesotho',[[28.98,-28.96],[29.33,-29.26],[29.02,-29.74],[28.85,-30.07],[28.29,-30.23],[28.11,-30.55],[27.75,-30.65],[27,-29.88],[27.53,-29.24],[28.07,-28.85],[28.54,-28.65]]],
['Eswatini',[[32.07,-26.73],[31.87,-27.18],[31.28,-27.29],[30.69,-26.74],[30.68,-26.4],[30.95,-26.02],[31.04,-25.73],[31.33,-25.66],[31.84,-25.84],[31.99,-26.29]]],
['Angola',[[16.33,-5.88],[16.57,-6.62],[16.86,-7.22],[17.09,-7.55],[17.47,-8.07],[18.13,-7.99],[18.46,-7.85],[19.02,-7.99],[19.17,-7.74],[19.42,-7.16],[20.04,-7.12],[20.09,-6.94],[20.6,-6.94],[20.51,-7.3],[21.73,-7.29],[21.75,-7.92],[21.95,-8.31],[21.8,-8.91],[21.88,-9.52],[22.21,-9.89],[22.16,-11.08],[22.4,-10.99],[22.84,-11.02],[23.46,-10.87],[23.91,-10.93],[24.02,-11.24],[23.9,-11.72],[24.08,-12.19],[23.93,-12.57],[24.02,-12.91],[21.93,-12.9],[21.89,-16.08],[22.56,-16.9],[23.22,-17.52],[21.38,-17.93],[18.96,-17.79],[18.26,-17.31],[14.21,-17.35],[14.06,-17.42],[13.46,-16.97],[12.81,-16.94],[12.22,-17.11],[11.73,-17.3],[11.64,-16.67],[11.78,-15.79],[12.12,-14.88],[12.18,-14.45],[12.5,-13.55],[12.74,-13.14],[13.31,-12.48],[13.63,-12.04],[13.74,-11.3],[13.69,-10.73],[13.39,-10.37],[13.12,-9.77],[12.88,-9.17],[12.93,-8.96],[13.24,-8.56],[12.93,-7.6],[12.73,-6.93],[12.23,-6.29],[12.32,-6.1],[12.74,-5.97],[13.02,-5.98],[13.38,-5.86]]],
['Cabinda',[[12.44,-5.68],[12.18,-5.79],[11.91,-5.04],[12.32,-4.61],[12.62,-4.44],[13,-4.78],[12.63,-4.99],[12.47,-5.25]]],
['DR Congo',[[30.83,3.51],[30.77,2.34],[31.17,2.2],[30.85,1.85],[30.47,1.58],[30.09,1.06],[29.88,0.6],[29.82,-0.21],[29.59,-0.59],[29.58,-1.34],[29.29,-1.62],[29.25,-2.22],[29.12,-2.29],[29.02,-2.84],[29.28,-3.29],[29.34,-4.5],[29.52,-5.42],[29.42,-5.94],[29.62,-6.52],[30.2,-7.08],[30.74,-8.34],[30.35,-8.24],[29,-8.41],[28.73,-8.53],[28.45,-9.16],[28.67,-9.61],[28.5,-10.79],[28.37,-11.79],[28.64,-11.97],[29.34,-12.18],[29.62,-12.18],[29.7,-13.26],[28.93,-13.25],[28.52,-12.7],[28.16,-12.27],[27.39,-12.13],[27.16,-11.61],[26.55,-11.92],[25.75,-11.78],[25.42,-11.33],[24.78,-11.24],[24.31,-11.26],[24.26,-10.95],[23.91,-10.93],[23.46,-10.87],[22.84,-11.02],[22.4,-10.99],[22.16,-11.08],[22.21,-9.89],[21.88,-9.52],[21.8,-8.91],[21.95,-8.31],[21.75,-7.92],[21.73,-7.29],[20.51,-7.3],[20.6,-6.94],[20.09,-6.94],[20.04,-7.12],[19.42,-7.16],[19.17,-7.74],[19.02,-7.99],[18.46,-7.85],[18.13,-7.99],[17.47,-8.07],[17.09,-7.55],[16.86,-7.22],[16.57,-6.62],[16.33,-5.88],[13.38,-5.86],[13.02,-5.98],[12.74,-5.97],[12.32,-6.1],[12.18,-5.79],[12.44,-5.68],[12.47,-5.25],[12.63,-4.99],[13,-4.78],[13.26,-4.88],[13.6,-4.5],[14.14,-4.51],[14.21,-4.79],[14.58,-4.97],[15.17,-4.34],[15.75,-3.86],[16.01,-3.54],[15.97,-2.71],[16.41,-1.74],[16.87,-1.23],[17.52,-0.74],[17.64,-0.42],[17.66,-0.06],[17.83,0.29],[17.77,0.86],[17.9,1.74],[18.09,2.37],[18.39,2.9],[18.45,3.5],[18.54,4.2],[18.93,4.71],[19.47,5.03],[20.29,4.69],[20.93,4.32],[21.66,4.22],[22.41,4.03],[22.7,4.63],[22.84,4.71],[23.3,4.61],[24.41,5.11],[24.8,4.9],[25.13,4.93],[25.28,5.17],[25.65,5.26],[26.4,5.15],[27.04,5.13],[27.37,5.23],[27.98,4.41],[28.43,4.29],[28.7,4.46],[29.16,4.39],[29.72,4.6],[29.95,4.17]]],
['Congo',[[13,-4.78],[12.62,-4.44],[12.32,-4.61],[11.91,-5.04],[11.09,-3.98],[11.86,-3.43],[11.48,-2.77],[11.82,-2.51],[12.5,-2.39],[12.58,-1.95],[13.11,-2.43],[13.99,-2.47],[14.3,-2],[14.43,-1.33],[14.32,-0.55],[13.84,0.04],[14.28,1.2],[14.03,1.4],[13.28,1.31],[13,1.83],[13.08,2.27],[14.34,2.23],[15.15,1.96],[15.94,1.73],[16.01,2.27],[16.54,3.2],[17.13,3.73],[17.81,3.56],[18.45,3.5],[18.39,2.9],[18.09,2.37],[17.9,1.74],[17.77,0.86],[17.83,0.29],[17.66,-0.06],[17.64,-0.42],[17.52,-0.74],[16.87,-1.23],[16.41,-1.74],[15.97,-2.71],[16.01,-3.54],[15.75,-3.86],[15.17,-4.34],[14.58,-4.97],[14.21,-4.79],[14.14,-4.51],[13.6,-4.5],[13.26,-4.88]]],
['Gabon',[[11.09,-3.98],[10.07,-2.97],[9.41,-2.14],[8.8,-1.11],[8.83,-0.78],[9.05,-0.46],[9.29,0.27],[9.49,1.01],[9.83,1.07],[11.29,1.06],[11.28,2.26],[11.75,2.33],[12.36,2.19],[12.95,2.32],[13.08,2.27],[13,1.83],[13.28,1.31],[14.03,1.4],[14.28,1.2],[13.84,0.04],[14.32,-0.55],[14.43,-1.33],[14.3,-2],[13.99,-2.47],[13.11,-2.43],[12.58,-1.95],[12.5,-2.39],[11.82,-2.51],[11.48,-2.77],[11.86,-3.43]]],
['Equatorial Guinea',[[9.49,1.01],[9.31,1.16],[9.65,2.28],[11.28,2.26],[11.29,1.06],[9.83,1.07]]],
['Cameroon',[[14.5,12.86],[14.89,12.22],[14.96,11.56],[14.92,10.89],[15.47,9.98],[14.91,9.99],[14.63,9.92],[14.17,10.02],[13.95,9.55],[14.54,8.97],[14.98,8.8],[15.12,8.38],[15.44,7.69],[15.28,7.42],[14.78,6.41],[14.54,6.23],[14.46,5.45],[14.56,5.03],[14.48,4.73],[14.95,4.21],[15.04,4.03],[15.41,3.34],[15.86,3.01],[15.91,2.56],[16.01,2.27],[15.94,1.73],[15.15,1.96],[14.34,2.23],[13.08,2.27],[12.95,2.32],[12.36,2.19],[11.75,2.33],[11.28,2.26],[9.65,2.28],[9.8,3.07],[9.4,3.73],[8.95,3.9],[8.74,4.35],[8.49,4.5],[8.5,4.77],[8.76,5.48],[9.23,6.44],[9.52,6.45],[10.12,7.04],[10.5,7.06],[11.06,6.64],[11.75,6.98],[11.84,7.4],[12.06,7.8],[12.22,8.31],[12.75,8.72],[12.96,9.42],[13.17,9.64],[13.31,10.16],[13.57,10.8],[14.42,11.57],[14.47,11.9],[14.58,12.09],[14.18,12.48],[14.21,12.8]]],
['Central African Republic',[[27.37,5.23],[27.04,5.13],[26.4,5.15],[25.65,5.26],[25.28,5.17],[25.13,4.93],[24.8,4.9],[24.41,5.11],[23.3,4.61],[22.84,4.71],[22.7,4.63],[22.41,4.03],[21.66,4.22],[20.93,4.32],[20.29,4.69],[19.47,5.03],[18.93,4.71],[18.54,4.2],[18.45,3.5],[17.81,3.56],[17.13,3.73],[16.54,3.2],[16.01,2.27],[15.91,2.56],[15.86,3.01],[15.41,3.34],[15.04,4.03],[14.95,4.21],[14.48,4.73],[14.56,5.03],[14.46,5.45],[14.54,6.23],[14.78,6.41],[15.28,7.42],[16.11,7.5],[16.29,7.75],[16.46,7.73],[16.71,7.51],[17.96,7.89],[18.39,8.28],[18.91,8.63],[18.81,8.98],[19.09,9.07],[20.06,9.01],[21,9.48],[21.72,10.57],[22.23,10.97],[22.86,11.14],[22.98,10.71],[23.55,10.09],[23.56,9.68],[23.39,9.27],[23.46,8.95],[23.81,8.67],[23.89,8.62],[24.57,8.23],[25.11,7.83],[25.12,7.5],[25.8,6.98],[26.21,6.55],[26.47,5.95],[27.21,5.55]]],
['Nigeria',[[8.5,4.77],[7.46,4.41],[7.08,4.46],[6.7,4.24],[5.9,4.26],[5.36,4.89],[5.03,5.61],[4.33,6.27],[3.57,6.26],[2.69,6.26],[2.75,7.87],[2.72,8.51],[2.91,9.14],[3.22,9.44],[3.71,10.06],[3.6,10.33],[3.8,10.73],[3.57,11.33],[3.61,11.66],[3.68,12.55],[3.97,12.96],[4.11,13.53],[4.37,13.75],[5.44,13.87],[6.45,13.49],[6.82,13.12],[7.33,13.1],[7.8,13.34],[9.01,12.83],[9.52,12.85],[10.11,13.28],[10.7,13.25],[10.99,13.39],[11.53,13.33],[12.3,13.04],[13.08,13.6],[13.32,13.56],[14.18,12.48],[14.58,12.09],[14.47,11.9],[14.42,11.57],[13.57,10.8],[13.31,10.16],[13.17,9.64],[12.96,9.42],[12.75,8.72],[12.22,8.31],[12.06,7.8],[11.84,7.4],[11.75,6.98],[11.06,6.64],[10.5,7.06],[10.12,7.04],[9.52,6.45],[9.23,6.44],[8.76,5.48]]],
['Benin',[[2.69,6.26],[1.87,6.14],[1.62,6.83],[1.66,9.13],[1.46,9.33],[1.43,9.83],[1.08,10.18],[0.77,10.47],[0.9,11],[1.24,11.11],[1.45,11.55],[1.94,11.64],[2.15,11.94],[2.49,12.23],[2.85,12.24],[3.61,11.66],[3.57,11.33],[3.8,10.73],[3.6,10.33],[3.71,10.06],[3.22,9.44],[2.91,9.14],[2.72,8.51],[2.75,7.87]]],
['Togo',[[0.9,11],[0.77,10.47],[1.08,10.18],[1.43,9.83],[1.46,9.33],[1.66,9.13],[1.62,6.83],[1.87,6.14],[1.06,5.93],[0.84,6.28],[0.57,6.91],[0.49,7.41],[0.71,8.31],[0.46,8.68],[0.37,9.47],[0.37,10.19],[-0.05,10.71],[0.02,11.02]]],
['Ghana',[[0.02,11.02],[-0.05,10.71],[0.37,10.19],[0.37,9.47],[0.46,8.68],[0.71,8.31],[0.49,7.41],[0.57,6.91],[0.84,6.28],[1.06,5.93],[-0.51,5.34],[-1.06,5],[-1.96,4.71],[-2.86,5],[-2.81,5.39],[-3.24,6.25],[-2.98,7.38],[-2.56,8.22],[-2.83,9.64],[-2.93,10.96],[-1.2,11.01],[-0.76,10.94],[-0.44,11.1]]],
['Burkina Faso',[[-2.83,9.64],[-3.51,9.9],[-3.98,9.86],[-4.33,9.61],[-4.78,9.82],[-4.95,10.15],[-5.4,10.37],[-5.47,10.95],[-5.2,11.38],[-5.22,11.71],[-4.43,12.54],[-4.28,13.23],[-4.01,13.47],[-3.52,13.34],[-3.1,13.54],[-2.97,13.8],[-2.19,14.25],[-2,14.56],[-1.07,14.97],[-0.52,15.12],[-0.27,14.92],[0.37,14.93],[0.3,14.44],[0.43,13.99],[0.99,13.34],[1.02,12.85],[2.18,12.63],[2.15,11.94],[1.94,11.64],[1.45,11.55],[1.24,11.11],[0.9,11],[0.02,11.02],[-0.44,11.1],[-0.76,10.94],[-1.2,11.01],[-2.93,10.96]]],
["Côte d'Ivoire",[[-7.52,4.34],[-5.83,4.99],[-4,5.18],[-3.31,4.98],[-2.86,5],[-2.81,5.39],[-3.24,6.25],[-2.98,7.38],[-2.56,8.22],[-2.83,9.64],[-3.51,9.9],[-3.98,9.86],[-4.33,9.61],[-4.78,9.82],[-4.95,10.15],[-5.4,10.37],[-5.82,10.22],[-6.05,10.1],[-6.21,10.52],[-6.49,10.41],[-6.67,10.43],[-6.85,10.14],[-7.62,10.15],[-7.9,10.3],[-8.03,10.21],[-8.33,9.79],[-8.08,9.38],[-7.83,8.58],[-8.2,8.46],[-8.3,8.32],[-8.22,7.69],[-8.44,7.69],[-8.49,7.4],[-8.39,6.91],[-8.6,6.47],[-8.31,6.19],[-7.99,6.13],[-7.57,5.71],[-7.54,5.31],[-7.64,5.19],[-7.71,4.36]]],
['Liberia',[[-7.71,4.36],[-7.97,4.36],[-9,5],[-9.91,5.59],[-10.76,6.14],[-11.44,6.79],[-11.2,7.11],[-11.15,7.4],[-10.7,7.94],[-10.23,8.41],[-9.76,8.54],[-9.34,7.93],[-9.4,7.41],[-9.21,7.31],[-8.93,7.31],[-8.72,7.71],[-8.44,7.69],[-8.49,7.4],[-8.39,6.91],[-8.6,6.47],[-8.31,6.19],[-7.99,6.13],[-7.57,5.71],[-7.54,5.31],[-7.64,5.19]]],
['Sierra Leone',[[-11.44,6.79],[-11.71,6.86],[-12.43,7.26],[-12.95,7.8],[-13.12,8.16],[-13.25,8.9],[-12.71,9.34],[-12.6,9.62],[-12.43,9.84],[-12.15,9.86],[-11.92,10.05],[-11.12,10.05],[-10.84,9.69],[-10.62,9.27],[-10.65,8.98],[-10.49,8.72],[-10.51,8.35],[-10.23,8.41],[-10.7,7.94],[-11.15,7.4],[-11.2,7.11]]],
['Guinea',[[-13.7,9.49],[-14.07,9.89],[-14.33,10.02],[-14.58,10.21],[-14.69,10.66],[-14.84,10.88],[-15.13,11.04],[-14.69,11.53],[-14.38,11.51],[-14.12,11.68],[-13.9,11.68],[-13.74,11.81],[-13.83,12.14],[-13.72,12.25],[-13.7,12.59],[-13.22,12.58],[-12.5,12.33],[-12.28,12.35],[-12.2,12.47],[-11.66,12.39],[-11.51,12.44],[-11.46,12.08],[-11.3,12.08],[-11.04,12.21],[-10.87,12.18],[-10.59,11.92],[-10.17,11.84],[-9.89,12.06],[-9.57,12.19],[-9.33,12.33],[-9.13,12.31],[-8.91,12.09],[-8.79,11.81],[-8.38,11.39],[-8.58,11.14],[-8.62,10.81],[-8.41,10.91],[-8.28,10.79],[-8.34,10.49],[-8.03,10.21],[-8.33,9.79],[-8.08,9.38],[-7.83,8.58],[-8.2,8.46],[-8.3,8.32],[-8.22,7.69],[-8.44,7.69],[-8.72,7.71],[-8.93,7.31],[-9.21,7.31],[-9.4,7.41],[-9.34,7.93],[-9.76,8.54],[-10.23,8.41],[-10.51,8.35],[-10.49,8.72],[-10.65,8.98],[-10.62,9.27],[-10.84,9.69],[-11.12,10.05],[-11.92,10.05],[-12.15,9.86],[-12.43,9.84],[-12.6,9.62],[-12.71,9.34],[-13.25,8.9]]],
['Guinea-Bissau',[[-15.13,11.04],[-15.66,11.46],[-16.09,11.52],[-16.31,11.81],[-16.61,12.17],[-16.68,12.38],[-16.15,12.55],[-15.82,12.52],[-15.55,12.63],[-13.7,12.59],[-13.72,12.25],[-13.83,12.14],[-13.74,11.81],[-13.9,11.68],[-14.12,11.68],[-14.38,11.51],[-14.69,11.53]]],
['Senegal',[[-16.71,13.59],[-17.13,14.37],[-17.63,14.73],[-17.19,14.92],[-16.7,15.62],[-16.46,16.14],[-16.12,16.46],[-15.62,16.37],[-15.14,16.59],[-14.58,16.6],[-14.1,16.3],[-13.44,16.04],[-12.83,15.3],[-12.17,14.62],[-12.12,13.99],[-11.93,13.42],[-11.55,13.14],[-11.47,12.75],[-11.51,12.44],[-11.66,12.39],[-12.2,12.47],[-12.28,12.35],[-12.5,12.33],[-13.22,12.58],[-13.7,12.59],[-15.55,12.63],[-15.82,12.52],[-16.15,12.55],[-16.68,12.38],[-16.84,13.15],[-15.93,13.13],[-15.69,13.27],[-15.51,13.28],[-15.14,13.51],[-14.71,13.3],[-14.28,13.28],[-13.84,13.51],[-14.05,13.79],[-14.38,13.63],[-14.69,13.63],[-15.08,13.88],[-15.4,13.86],[-15.62,13.62]]],
['Gambia',[[-16.84,13.15],[-16.71,13.59],[-15.62,13.62],[-15.4,13.86],[-15.08,13.88],[-14.69,13.63],[-14.38,13.63],[-14.05,13.79],[-13.84,13.51],[-14.28,13.28],[-14.71,13.3],[-15.14,13.51],[-15.51,13.28],[-15.69,13.27],[-15.93,13.13]]],
['Madagascar',[[49.54,-12.47],[49.81,-12.9],[50.06,-13.56],[50.22,-14.76],[50.48,-15.23],[50.38,-15.71],[50.2,-16],[49.86,-15.41],[49.67,-15.71],[49.86,-16.45],[49.77,-16.88],[49.5,-17.11],[49.44,-17.95],[48.55,-20.5],[47.93,-22.39],[47.55,-23.78],[47.1,-24.94],[46.28,-25.18],[45.41,-25.6],[44.83,-25.35],[44.04,-25],[43.76,-24.46],[43.7,-23.57],[43.35,-22.78],[43.25,-22.06],[43.43,-21.34],[43.89,-21.16],[43.9,-20.83],[44.37,-20.07],[44.46,-19.44],[44.23,-19],[44.04,-18.33],[43.96,-17.41],[44.31,-16.85],[44.45,-16.22],[44.94,-16.18],[45.5,-15.97],[45.87,-15.79],[46.31,-15.78],[46.88,-15.21],[47.71,-14.59],[48.01,-14.09],[47.87,-13.66],[48.29,-13.78],[48.85,-13.09],[48.86,-12.49],[49.19,-12.04]]]
];
const FONT='"Liberation Sans", Arial, sans-serif';
const closeRing=r=>r.concat([r[0]]);
const features=mapShapes.filter(s=>s[0]!=='Cabinda').map(s=>{
  if(s[0]==='Angola'){const cab=mapShapes.find(c=>c[0]==='Cabinda')[1];
    return {type:'Feature',properties:{name:'Angola'},geometry:{type:'MultiPolygon',coordinates:[[closeRing(s[1])],[closeRing(cab)]]}};}
  return {type:'Feature',properties:{name:s[0]},geometry:{type:'Polygon',coordinates:[closeRing(s[1])]}};
});
echarts.registerMap('africa',{type:'FeatureCollection',features});

const zipCurve=v=>curveYears.map((y,k)=>[y,v[k]]);
const panels=[
 {left:118.5,top:45,right:457.5,bottom:390,x2004:154.7,x2020:437.3,y100:61,y0:375,groups:centralWestern,med:medianA,up:upperA,lo:lowerA},
 {left:586.7,top:45,right:926,bottom:390,x2004:623.3,x2020:905.7,y100:61,y0:375,groups:eastern,med:medianB,up:upperB,lo:lowerB},
 {left:118.5,top:513.3,right:457.5,bottom:858.3,x2004:154.7,x2020:437.3,y100:528.7,y0:843,groups:southern,med:medianC,up:upperC,lo:lowerC}
];
const option={animation:false,backgroundColor:'#fff',textStyle:{fontFamily:FONT},grid:[],xAxis:[],yAxis:[],series:[],title:[],graphic:[]};
panels.forEach((p,i)=>{
  const pxY=(p.x2020-p.x2004)/16, pyU=(p.y0-p.y100)/100;
  option.grid.push({left:p.left,top:p.top,width:p.right-p.left,height:p.bottom-p.top,containLabel:false,outerBoundsMode:'none'});
  option.xAxis.push({type:'value',gridIndex:i,min:2004-(p.x2004-p.left)/pxY,max:2020+(p.right-p.x2020)/pxY,
    axisLine:{show:false},axisTick:{show:false},splitLine:{show:false},
    axisLabel:{customValues:xMajor,formatter:v=>String(v),fontSize:21.5,color:'#5c5c5c',margin:10,hideOverlap:false},
    name:'Study midpoint year',nameLocation:'middle',nameGap:38,nameTextStyle:{fontSize:23.5,color:'#1f1f1f'}});
  option.yAxis.push({type:'value',gridIndex:i,min:-(p.bottom-p.y0)/pyU,max:100+(p.y100-p.top)/pyU,
    axisLine:{show:false},axisTick:{show:false},splitLine:{show:false},
    axisLabel:{customValues:yMajor,formatter:v=>String(v),fontSize:21.5,color:'#5c5c5c',margin:14},
    name:'Proportion (%) of MSM ever\ntested for HIV',nameLocation:'middle',nameGap:55,nameRotate:90,
    nameTextStyle:{fontSize:23.5,color:'#1f1f1f',lineHeight:27}});
  const gl=(k,v,w)=>({[k]:v,lineStyle:{width:w,color:'#EDEDED',type:'solid'}});
  option.series.push({type:'line',name:'grid'+i,xAxisIndex:i,yAxisIndex:i,data:[],silent:true,z:0,
    markLine:{silent:true,symbol:'none',label:{show:false},animation:false,precision:6,
      data:[...xMinor.map(v=>gl('xAxis',v,1)),...yMinor.map(v=>gl('yAxis',v,1)),...xMajor.map(v=>gl('xAxis',v,1.4)),...yMajor.map(v=>gl('yAxis',v,1.9))]}});
  p.groups.forEach(g=>{
    const col=g[1];
    option.series.push({type:'custom',name:g[0],xAxisIndex:i,yAxisIndex:i,data:g[2],clip:false,z:2,silent:true,
      encode:{x:0,y:1},
      renderItem:(params,api)=>{
        const x=api.value(0);
        const c=api.coord([x,api.value(1)]),t=api.coord([x,api.value(3)]),b=api.coord([x,api.value(2)]);
        const ls={stroke:col,lineWidth:1.9,opacity:.8};
        return {type:'group',children:[
          {type:'line',shape:{x1:c[0],y1:t[1],x2:c[0],y2:b[1]},style:ls},
          {type:'line',shape:{x1:c[0]-2.8,y1:t[1],x2:c[0]+2.8,y2:t[1]},style:{stroke:col,lineWidth:1.4,opacity:.8}},
          {type:'line',shape:{x1:c[0]-2.8,y1:b[1],x2:c[0]+2.8,y2:b[1]},style:{stroke:col,lineWidth:1.4,opacity:.8}},
          {type:'circle',shape:{cx:c[0],cy:c[1],r:3.8},style:{fill:col,opacity:.95}}
        ]};
      }});
  });
  const lineSeries=(name,values,style)=>({type:'line',name,xAxisIndex:i,yAxisIndex:i,data:zipCurve(values),showSymbol:false,symbol:'none',smooth:.35,silent:true,z:3,lineStyle:style});
  option.series.push(lineSeries('Pooled upper',p.up,{color:'#222',width:1,type:[5,4]}));
  option.series.push(lineSeries('Pooled lower',p.lo,{color:'#222',width:1,type:[5,4]}));
  option.series.push(lineSeries('Pooled median',p.med,{color:'#000',width:2.4}));
});
// titles
[['Central/Western Africa',287,27],['Eastern Africa',756,27],['Southern Africa',287,495]].forEach(t=>{
  option.title.push({text:t[0],left:t[1],top:t[2],textAlign:'center',textVerticalAlign:'middle',padding:0,textStyle:{fontFamily:FONT,fontSize:18.9,fontWeight:'bold',color:'#222'}});
});
[['(a)',20,21],['(b)',489.5,21],['(c)',20,489],['(d)',489.5,489]].forEach(t=>{
  option.title.push({text:t[0],left:t[1],top:t[2],textVerticalAlign:'middle',padding:0,textStyle:{fontFamily:FONT,fontSize:28,fontWeight:'bold',color:'#111'}});
});
// map
const mapLeft=484.5,mapTop=516.6;
option.geo={map:'africa',roam:false,silent:true,aspectScale:1,left:mapLeft,top:mapTop,width:345,height:369,
  boundingCoords:[[-18,38],[52,-37]],label:{show:false},emphasis:{disabled:true},
  itemStyle:{areaColor:'#D1DBD8',borderColor:'#94A3A0',borderWidth:.7}};
const mapIdx=option.series.length;
option.series.push({type:'map',geoIndex:0,name:'Estimated proportion',silent:true,data:mapValues.map(d=>({name:d[0],value:d[1]}))});
option.series.push({type:'lines',coordinateSystem:'geo',name:'leaders',silent:true,z:4,polyline:false,lineStyle:{color:'#000',width:2,opacity:1},data:mapLeaders.map(c=>({coords:c}))});
option.series.push({type:'scatter',coordinateSystem:'geo',name:'map labels',silent:true,z:5,symbolSize:1,itemStyle:{color:'rgba(0,0,0,0)'},
  data:mapLabels.map(d=>({name:d[0],value:[d[1],d[2]]})),
  label:{show:true,position:'inside',formatter:q=>q.name,fontFamily:FONT,fontSize:15.1,color:'#111',textBorderWidth:0},labelLayout:{hideOverlap:false}});
const cbTop=636,cbH=186,cbLeft=855.7,cbW=16;
option.visualMap={type:'continuous',seriesIndex:mapIdx,min:40,max:100,left:cbLeft,top:cbTop,padding:0,itemWidth:cbW,itemHeight:cbH,calculable:false,hoverLink:false,realtime:false,text:null,showLabel:false,inRange:{color:colorbarColors},textStyle:{color:'rgba(0,0,0,0)',fontSize:1}};
// graphic legends
const g=option.graphic;
const T=(txt,x,y,o={})=>g.push({type:'text',silent:true,z:20,x,y,style:Object.assign({text:txt,fontFamily:FONT,fontSize:17.3,fill:'#262626',verticalAlign:'middle',align:'left'},o)});
const L=(x1,y1,x2,y2,st)=>g.push({type:'line',silent:true,z:20,shape:{x1,y1,x2,y2},style:Object.assign({stroke:'#000',lineWidth:1},st)});
const legendX=945,keyX1=949,keyX2=978,keyMid=963.5,textX=991;
T('Legend',legendX,135,{fontWeight:'bold',fontSize:17.1,fill:'#111'});
L(keyMid,155,keyMid,171,{lineWidth:1.5});
g.push({type:'circle',silent:true,z:20,shape:{cx:keyMid,cy:163,r:3.4},style:{fill:'#000'}});
T('Study observation and 95% CI',textX,163);
L(keyX1,190,keyX2,190,{lineWidth:2.4});T('Pooled region estimate, median',textX,191);
L(keyX1,207,keyX2,207,{lineWidth:2.4,lineDash:[8,6]});T('Pooled region estimate, 95% CrI',textX,207);
L(keyX1,223,keyX2,223,{lineWidth:1,stroke:'#F21A00'});T('Pooled country estimate, median',textX,223);
const legendBlock=(title,yTitle,yFirst,items)=>{
  T(title,legendX,yTitle,{fontWeight:'bold',fontSize:17.1,fill:'#111'});
  items.forEach((it,k)=>{const y=yFirst+k*16.25;
    L(keyX1,y,keyX2,y,{stroke:it[1],lineWidth:1.3,opacity:.7});
    g.push({type:'circle',silent:true,z:20,shape:{cx:keyMid,cy:y,r:4.9},style:{fill:it[1]}});
    T(it[0],textX,y);});
};
legendBlock('Central/Western Africa',284,309,centralWestern);
legendBlock('Eastern Africa',506,530.5,eastern);
legendBlock('Southern Africa',685,710.5,southern);
// colour bar annotations
['Estimated','proportion','in 2020, %'].forEach((s,k)=>T(s,cbLeft,581.7+k*19,{fontSize:17}));
colorbarTicks.forEach(v=>{
  const y=cbTop+cbH-(v-40)/60*cbH;
  T(String(v),880.7,y,{fontSize:17});
  L(cbLeft,y,cbLeft+3.5,y,{stroke:'#fff',lineWidth:.7});
  L(cbLeft+cbW-3.5,y,cbLeft+cbW,y,{stroke:'#fff',lineWidth:.7});
});
const chart=echarts.init(document.getElementById('c'),null,{renderer:'canvas',width:1251,height:921});
chart.setOption(option);
</script></body></html>
